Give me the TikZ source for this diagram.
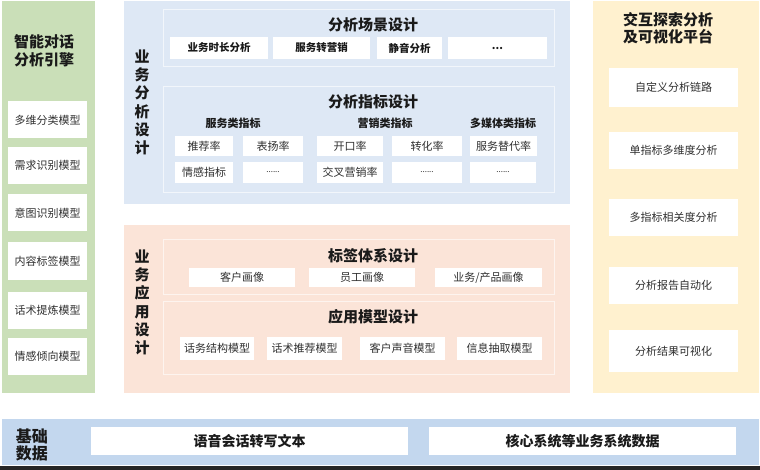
\documentclass[tikz,border=0pt]{standalone}
\usepackage{fontspec}
\setmainfont{Noto Sans CJK SC}
\definecolor{pgreen}{HTML}{CADFB8}
\definecolor{pblue}{HTML}{DEE8F5}
\definecolor{ppink}{HTML}{FBE4D8}
\definecolor{pyellow}{HTML}{FFF1CF}
\definecolor{pbase}{HTML}{C3D7EE}
\definecolor{txt}{HTML}{303030}
\definecolor{txtb}{HTML}{1A1A1A}
\tikzset{
  panel/.style={draw=white, line width=1pt, inner sep=0pt},
  subpanel/.style={draw=white!60!#1, fill=#1, line width=1pt, inner sep=0pt},
  wbox/.style={fill=white, inner sep=0pt, text=txt, font=\fontsize{11}{13}\selectfont},
  sbox/.style={fill=white, inner sep=0pt, text=txtb, font=\fontsize{10.5}{12}\selectfont\bfseries},
  ttl/.style={text=txtb, font=\fontsize{15}{17}\selectfont\bfseries, inner sep=0pt, align=center},
  cat/.style={text=txtb, font=\fontsize{11}{13}\selectfont\bfseries, inner sep=0pt},
  vtxt/.style={text=txtb, font=\fontsize{15}{18.2}\selectfont\bfseries, inner sep=0pt, align=center},
  bbox/.style={fill=white, inner sep=0pt, text=txtb, font=\fontsize{14}{16}\selectfont\bfseries},
}
\begin{document}
\begin{tikzpicture}[x=1pt,y=-1pt]
\useasboundingbox (0,0) rectangle (760,470);
\fill[white] (0,0) rectangle (760,470);
% bottom dark edge
\fill[black!85] (0,465.5) rectangle (760,470);
% ---------- left green panel ----------
\path[panel, fill=pgreen] (1,0.5) rectangle (95,393);
\node[ttl, font=\fontsize{15}{18}\selectfont\bfseries] (engine) at (44,51) {智能对话\\分析引擎};
\node[wbox, minimum width=79, minimum height=37] (g1) at (47.5,120) {多维分类模型};
\node[wbox, minimum width=79, minimum height=37] (g2) at (47.5,165.5) {需求识别模型};
\node[wbox, minimum width=79, minimum height=37] (g3) at (47.5,213) {意图识别模型};
\node[wbox, minimum width=79, minimum height=38] (g4) at (47.5,261) {内容标签模型};
\node[wbox, minimum width=79, minimum height=37] (g5) at (47.5,310.5) {话术提炼模型};
\node[wbox, minimum width=79, minimum height=37] (g6) at (47.5,356.5) {情感倾向模型};
% ---------- blue panel ----------
\path[panel, fill=pblue] (123,0.5) rectangle (570,205);
\node[vtxt] (v1) at (142,102.5) {业\\务\\分\\析\\设\\计};
\path[subpanel=pblue] (163,10) rectangle (554,67);
\node[ttl] (scene) at (373,25) {分析场景设计};
\node[sbox, minimum width=98, minimum height=22] (s1) at (219,48) {业务时长分析};
\node[sbox, minimum width=97, minimum height=22] (s2) at (321.5,48) {服务转营销};
\node[sbox, minimum width=65, minimum height=22] (s3) at (409.5,48) {静音分析};
\node[sbox, minimum width=99, minimum height=22] (s4) at (497.5,48) {...};
\path[subpanel=pblue] (163,87) rectangle (554,193);
\node[ttl] (index) at (373,102) {分析指标设计};
\node[cat] (c1) at (233,123.5) {服务类指标};
\node[cat] (c2) at (385,123.5) {营销类指标};
\node[cat] (c3) at (503,123.5) {多媒体类指标};
\node[wbox, minimum width=58, minimum height=20] (i1) at (204,146) {推荐率};
\node[wbox, minimum width=60, minimum height=20] (i2) at (273,146) {表扬率};
\node[wbox, minimum width=66, minimum height=20] (i3) at (350,146) {开口率};
\node[wbox, minimum width=70, minimum height=20] (i4) at (427,146) {转化率};
\node[wbox, minimum width=67, minimum height=20] (i5) at (503.5,146) {服务替代率};
\node[wbox, minimum width=58, minimum height=21] (j1) at (204,172.5) {情感指标};
\node[wbox, minimum width=60, minimum height=21] (j2) at (273,172.5) {\fontsize{8}{9}\selectfont ......};
\node[wbox, minimum width=66, minimum height=21] (j3) at (350,172.5) {交叉营销率};
\node[wbox, minimum width=70, minimum height=21] (j4) at (427,172.5) {\fontsize{8}{9}\selectfont ......};
\node[wbox, minimum width=66, minimum height=21] (j5) at (503,172.5) {\fontsize{8}{9}\selectfont ......};
% ---------- pink panel ----------
\path[panel, fill=ppink] (123,225) rectangle (570,393);
\node[vtxt] (v2) at (142,302.5) {业\\务\\应\\用\\设\\计};
\path[subpanel=ppink] (163,240) rectangle (554,294);
\node[ttl] (tag) at (373,256) {标签体系设计};
\node[wbox, minimum width=106, minimum height=19] (t1) at (242,277.5) {客户画像};
\node[wbox, minimum width=106, minimum height=19] (t2) at (362,277.5) {员工画像};
\node[wbox, minimum width=107, minimum height=19] (t3) at (488.5,277.5) {业务/产品画像};
\path[subpanel=ppink] (163,301) rectangle (554,374);
\node[ttl] (app) at (373,316.5) {应用模型设计};
\node[wbox, minimum width=74, minimum height=23] (m1) at (217,348.5) {话务结构模型};
\node[wbox, minimum width=75, minimum height=23] (m2) at (304.5,348.5) {话术推荐模型};
\node[wbox, minimum width=85, minimum height=23] (m3) at (402.5,348.5) {客户声音模型};
\node[wbox, minimum width=85, minimum height=23] (m4) at (499.5,348.5) {信息抽取模型};
% ---------- yellow panel ----------
\path[panel, fill=pyellow] (592,0.5) rectangle (759.5,393);
\node[ttl, font=\fontsize{15}{17}\selectfont\bfseries] (plat) at (668,28.5) {交互探索分析\\及可视化平台};
\node[wbox, minimum width=129, minimum height=39] (y1) at (673.5,87.5) {自定义分析链路};
\node[wbox, minimum width=129, minimum height=37] (y2) at (673.5,150.5) {单指标多维度分析};
\node[wbox, minimum width=129, minimum height=37] (y3) at (673.5,217.5) {多指标相关度分析};
\node[wbox, minimum width=129, minimum height=37] (y4) at (673.5,285.5) {分析报告自动化};
\node[wbox, minimum width=129, minimum height=42] (y5) at (673.5,351) {分析结果可视化};
% ---------- bottom base bar ----------
\path[panel, fill=pbase] (1.5,418) rectangle (759.5,465.5);
\node[ttl, font=\fontsize{16}{16.5}\selectfont\bfseries] (base) at (32,445) {基础\\数据};
\node[bbox, minimum width=317, minimum height=28] (b1) at (249.5,441) {语音会话转写文本};
\node[bbox, minimum width=307, minimum height=28] (b2) at (582.5,441) {核心系统等业务系统数据};
\end{tikzpicture}
\end{document}
